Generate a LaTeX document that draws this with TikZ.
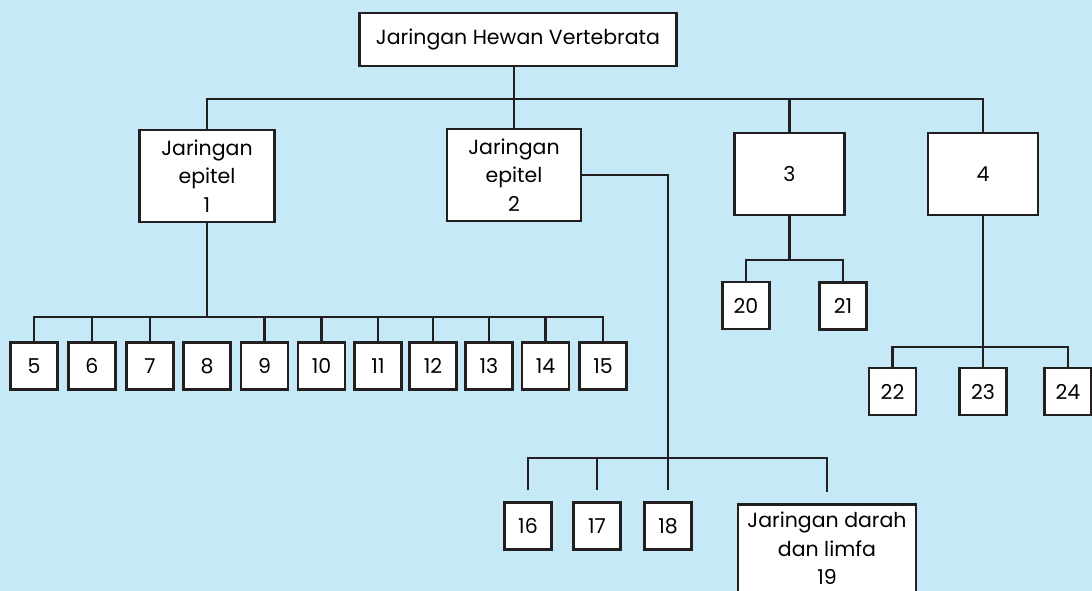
\documentclass[tikz,border=0pt]{standalone}
\usepackage{fontspec}
\setmainfont{Poppins}
\usepackage{tikz}
\usetikzlibrary{positioning}
\definecolor{latarBiru}{HTML}{C6E9F8}
\definecolor{garisHitam}{HTML}{231F20}

\begin{document}
\begin{tikzpicture}[x=1pt, y=-1pt,
        kotak/.style={draw=garisHitam, fill=white, line width=2.5pt, inner sep=0pt,
            align=center, font=\fontsize{20.5}{28.5}\selectfont},
        kecil/.style={kotak, minimum width=47pt, minimum height=47pt},
        garis/.style={garisHitam, line width=2.4pt}
    ]
        \clip (0,0) rectangle (1092,591);
        \fill[latarBiru] (0,0) rectangle (1092,591);

        % tingkat atas
        \node[kotak, minimum width=317pt, minimum height=53pt] (akar) at (518,39.5) {Jaringan Hewan Vertebrata};
        \node[kotak, minimum width=135pt, minimum height=92pt] (epitel1) at (207,176) {Jaringan\\epitel\\1};
        \node[kotak, minimum width=134pt, minimum height=92pt] (epitel2) at (514,175) {Jaringan\\epitel\\2};
        \node[kotak, minimum width=110pt, minimum height=82pt] (jar3) at (789.5,174) {3};
        \node[kotak, minimum width=110pt, minimum height=82pt] (jar4) at (983,174) {4};

        % anak jaringan 1
        \node[kecil] (n5) at (34,366) {5};
        \node[kecil] (n6) at (92,366) {6};
        \node[kecil] (n7) at (150,366) {7};
        \node[kecil] (n8) at (207,366) {8};
        \node[kecil] (n9) at (264.5,366) {9};
        \node[kecil] (n10) at (321.5,366) {10};
        \node[kecil] (n11) at (378,366) {11};
        \node[kecil] (n12) at (433,366) {12};
        \node[kecil] (n13) at (489,366) {13};
        \node[kecil] (n14) at (545.5,366) {14};
        \node[kecil] (n15) at (603,366) {15};

        % anak jaringan 2
        \node[kecil] (n16) at (528,526) {16};
        \node[kecil] (n17) at (597,526) {17};
        \node[kecil] (n18) at (668,526) {18};
        \node[kotak, minimum width=178pt, minimum height=88pt, anchor=north] (n19) at (827,503) {Jaringan darah\\dan limfa\\19};

        % anak 3 dan 4
        \node[kecil] (n20) at (746,305.5) {20};
        \node[kecil] (n21) at (843,306) {21};
        \node[kecil] (n22) at (892.5,391.5) {22};
        \node[kecil] (n23) at (983,391.5) {23};
        \node[kecil] (n24) at (1068,391.5) {24};

        \coordinate (cabang) at (514,99);
        \coordinate (cab1) at (207,317);
        \coordinate (cab2) at (668,458);
        \coordinate (cab3) at (789.5,260);
        \coordinate (cab4) at (983,347);

        \draw[garis] (cabang |- akar.south) -- (cabang);
        \draw[garis] (epitel1.north) |- (cabang) -| (jar4.north);
        \draw[garis] (cabang) -- (epitel2.north);
        \draw[garis] (cabang -| jar3.north) -- (jar3.north);

        \draw[garis] (epitel1.south) -- (cab1);
        \draw[garis] (n5.north) |- (cab1) -| (n15.north);
        \draw[garis] (n6.north) -- (n6.north |- cab1);
        \draw[garis] (n7.north) -- (n7.north |- cab1);
        \draw[garis] (n9.north) -- (n9.north |- cab1);
        \draw[garis] (n10.north) -- (n10.north |- cab1);
        \draw[garis] (n11.north) -- (n11.north |- cab1);
        \draw[garis] (n12.north) -- (n12.north |- cab1);
        \draw[garis] (n13.north) -- (n13.north |- cab1);
        \draw[garis] (n14.north) -- (n14.north |- cab1);

        \draw[garis] (epitel2.east) -| (cab2);
        \draw[garis, shorten <=11pt, shorten >=11pt] (n16.north) |- (cab2) -| (n19.north);
        \draw[garis, shorten <=11pt] (n17.north) -- (n17.north |- cab2);
        \draw[garis, shorten >=11pt] (cab2) -- (n18.north);

        \draw[garis] (jar3.south) -- (cab3);
        \draw[garis] (n20.north) |- (cab3) -| (n21.north);
        \draw[garis] (jar4.south) -- (cab4);
        \draw[garis] (n22.north) |- (cab4) -| (n24.north);
        \draw[garis] (cab4) -- (n23.north);
    \end{tikzpicture}
\end{document}
